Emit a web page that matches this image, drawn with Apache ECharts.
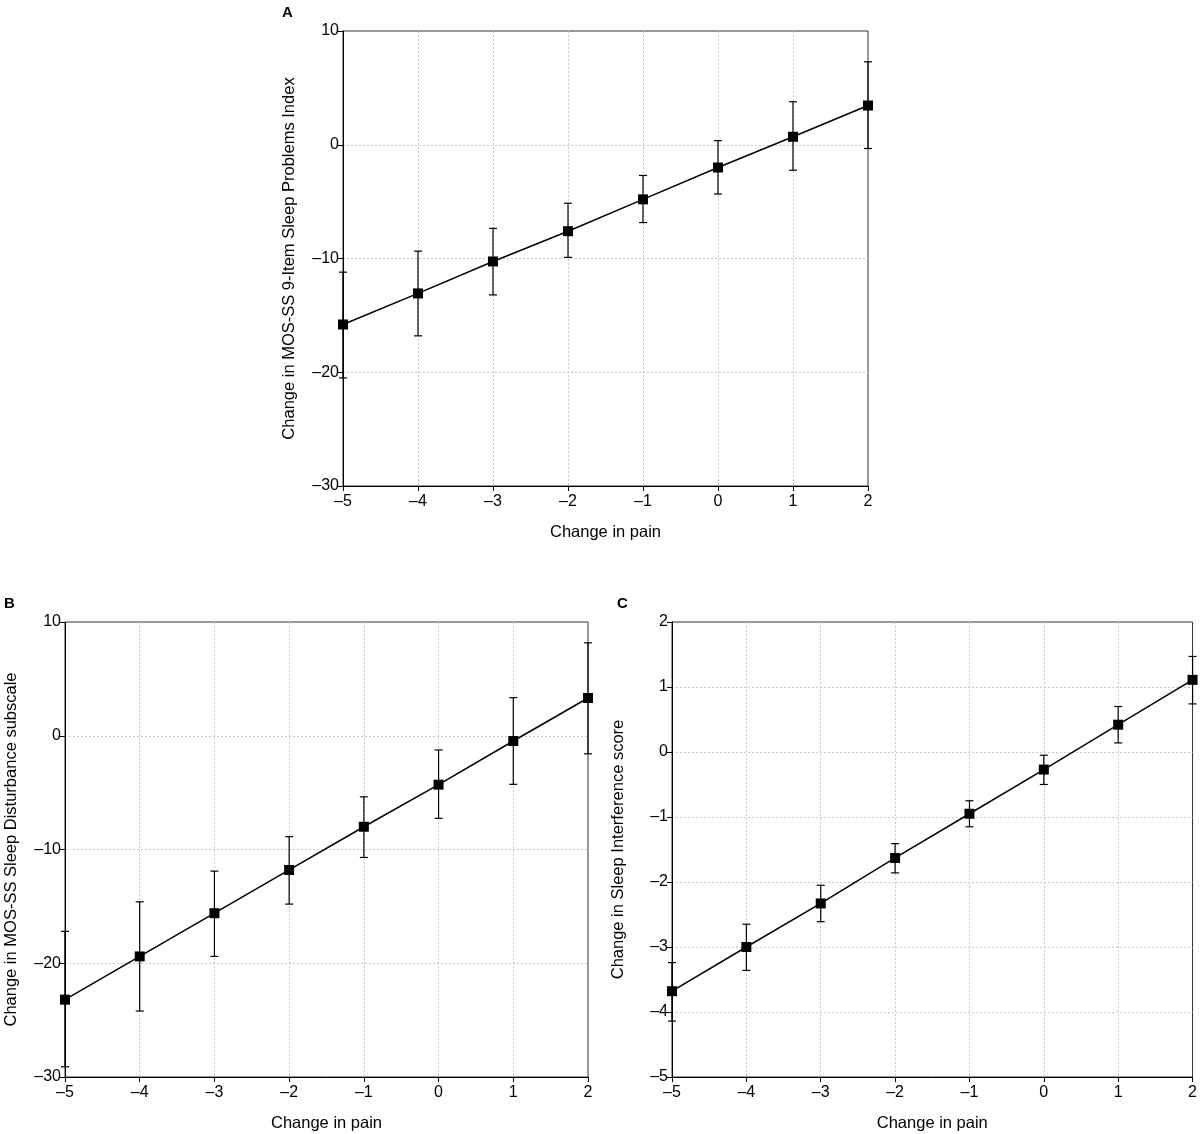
<!DOCTYPE html>
<html>
<head>
<meta charset="utf-8">
<script src="https://cdn.jsdelivr.net/npm/echarts@6/dist/echarts.min.js"></script>
<style>html,body{margin:0;padding:0;background:#fff;}#c{width:1200px;height:1134px;}</style>
</head>
<body>
<div id="c"></div>
<script>
const painX = [-5, -4, -3, -2, -1, 0, 1, 2];

const aMean  = [-15.8, -13.07, -10.26, -7.6, -4.8, -2.0, 0.7, 3.45];
const aLower = [-20.5, -16.8, -13.2, -9.9, -6.84, -4.33, -2.24, -0.33];
const aUpper = [-11.2, -9.35, -7.35, -5.14, -2.7, 0.36, 3.78, 7.29];

const bMean  = [-23.2, -19.4, -15.6, -11.8, -8.0, -4.3, -0.46, 3.32];
const bLower = [-29.1, -24.2, -19.4, -14.8, -10.7, -7.26, -4.27, -1.59];
const bUpper = [-17.2, -14.6, -11.9, -8.87, -5.37, -1.25, 3.35, 8.17];

const cMean  = [-3.68, -3.0, -2.33, -1.63, -0.95, -0.27, 0.42, 1.11];
const cLower = [-4.14, -3.36, -2.61, -1.86, -1.15, -0.5, 0.14, 0.74];
const cUpper = [-3.24, -2.65, -2.05, -1.41, -0.75, -0.05, 0.70, 1.47];

const xTitle = 'Change in pain';
const yTitles = [
  'Change in MOS-SS 9-Item Sleep Problems Index',
  'Change in MOS-SS Sleep Disturbance subscale',
  'Change in Sleep Interference score'
];
const panelLetters = ['A', 'B', 'C'];

const FONT = '"Liberation Sans", Arial, sans-serif';
const fmt = v => String(v).replace('-', '\u2013');

const grids = [
  {left: 343, top: 31, width: 525, height: 455},
  {left: 65, top: 622, width: 523, height: 455},
  {left: 672, top: 622, width: 524, height: 455}
];
const yRanges = [
  {min: -30, max: 10, interval: 10},
  {min: -30, max: 10, interval: 10},
  {min: -5, max: 2, interval: 1}
];

const splitLine = {show: true, showMinLine: false, showMaxLine: false, lineStyle: {color: '#c8c8c8', type: [2, 2], width: 1}};
const axisLine = {show: true, onZero: false, lineStyle: {color: '#000', width: 1}};
const axisTick = {show: true, length: 5, lineStyle: {color: '#000'}};
const axisLabel = {color: '#000', fontSize: 16, fontFamily: FONT, formatter: fmt};
const titleStyle = {color: '#000', fontSize: 16.5, fontFamily: FONT};

const xAxes = grids.map((g, i) => ({
  type: 'value', gridIndex: i, min: -5, max: 2, interval: 1,
  name: xTitle, nameLocation: 'middle', nameGap: 38,
  nameTextStyle: titleStyle,
  axisLine, axisTick, axisLabel: Object.assign({}, axisLabel, {margin: 8}), splitLine
}));
const yAxes = grids.map((g, i) => Object.assign({
  type: 'value', gridIndex: i,
  name: yTitles[i], nameLocation: 'middle', nameGap: 45,
  nameTextStyle: titleStyle,
  axisLine, axisTick, axisLabel: Object.assign({}, axisLabel, {margin: 4}), splitLine
}, yRanges[i]));

function errData(lo, hi) { return painX.map((x, i) => [x, lo[i], hi[i]]); }
function lineData(m) { return painX.map((x, i) => [x, m[i]]); }

function errRender(params, api) {
  const x = api.value(0), lo = api.value(1), hi = api.value(2);
  const p1 = api.coord([x, hi]), p2 = api.coord([x, lo]);
  const w = 4;
  const st = {stroke: '#000', lineWidth: 1.2};
  return {type: 'group', children: [
    {type: 'line', shape: {x1: p1[0], y1: p1[1], x2: p2[0], y2: p2[1]}, style: st},
    {type: 'line', shape: {x1: p1[0] - w, y1: p1[1], x2: p1[0] + w, y2: p1[1]}, style: st},
    {type: 'line', shape: {x1: p2[0] - w, y1: p2[1], x2: p2[0] + w, y2: p2[1]}, style: st}
  ]};
}

const means = [aMean, bMean, cMean];
const lows = [aLower, bLower, cLower];
const highs = [aUpper, bUpper, cUpper];
const series = [];
for (let i = 0; i < 3; i++) {
  series.push({
    type: 'custom', xAxisIndex: i, yAxisIndex: i, z: 2, clip: false,
    renderItem: errRender, data: errData(lows[i], highs[i]), silent: true
  });
  series.push({
    type: 'line', xAxisIndex: i, yAxisIndex: i, z: 3,
    data: lineData(means[i]), symbol: 'rect', symbolSize: 10,
    itemStyle: {color: '#000'}, lineStyle: {color: '#000', width: 1.5},
    animation: false, silent: true
  });
}

const letterPos = [[282, 5], [4, 596], [617, 596]];
const graphic = panelLetters.map((t, i) => ({
  type: 'text', left: letterPos[i][0], top: letterPos[i][1],
  style: {text: t, fill: '#000', font: 'bold 15px ' + FONT}
}));

const chart = echarts.init(document.getElementById('c'), null, {renderer: 'canvas'});
chart.setOption({
  animation: false,
  backgroundColor: '#fff',
  grid: grids.map(g => Object.assign({show: true, borderColor: '#333', borderWidth: 1, backgroundColor: 'transparent'}, g)),
  xAxis: xAxes,
  yAxis: yAxes,
  series,
  graphic
});
</script>
</body>
</html>
